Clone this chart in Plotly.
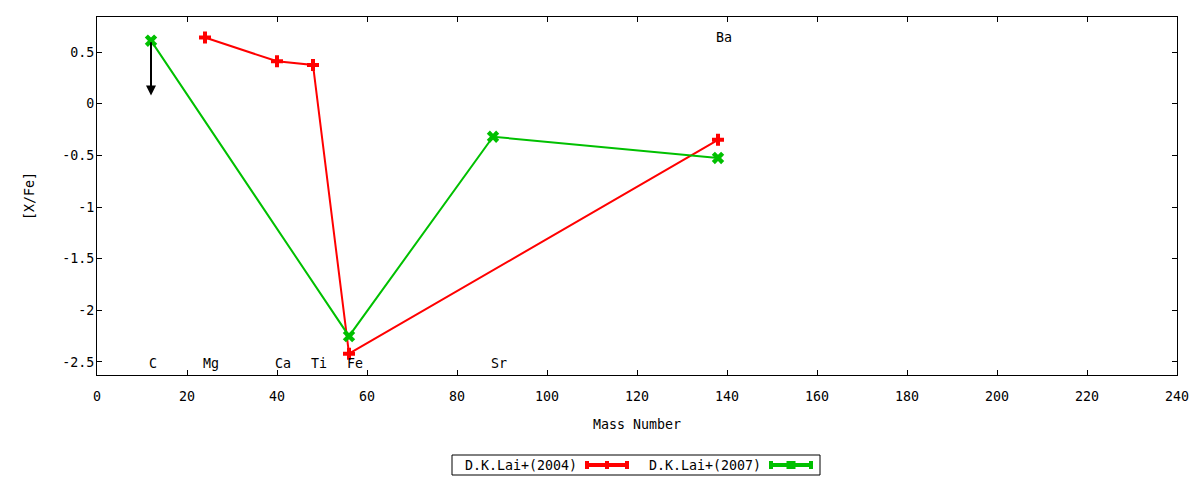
import plotly.graph_objects as go

# D.K.Lai+(2004)
lai04_mass = [24, 40, 48, 56, 138]
lai04_xfe = [0.64, 0.41, 0.375, -2.42, -0.35]

# D.K.Lai+(2007)
lai07_mass = [12, 56, 88, 138]
lai07_xfe = [0.61, -2.25, -0.32, -0.525]

# upper limit on C
limit_mass = [12]
limit_from = [0.61]
limit_to = [0.08]

element_names = ["C", "Mg", "Ca", "Ti", "Fe", "Sr", "Ba"]
element_mass = [12, 24, 40, 48, 56, 88, 138]
element_y = [-2.5, -2.5, -2.5, -2.5, -2.5, -2.5, 0.66]

y_ticks = [0.5, 0, -0.5, -1, -1.5, -2, -2.5]
y_ticktext = ["0.5", "0", "-0.5", "-1", "-1.5", "-2", "-2.5"]

legend_names = ["D.K.Lai+(2004)", "D.K.Lai+(2007)"]

FONT = "DejaVu Sans Mono"
FS = 13.3
RED = "#FF0000"
GREEN = "#00C000"

fig = go.Figure()
fig.add_trace(go.Scatter(
    x=lai04_mass, y=lai04_xfe, mode="lines+markers", name=legend_names[0],
    line=dict(color=RED, width=2),
    marker=dict(symbol="cross", size=10, color=RED),
))
fig.add_trace(go.Scatter(
    x=lai07_mass, y=lai07_xfe, mode="lines+markers", name=legend_names[1],
    line=dict(color=GREEN, width=2),
    marker=dict(symbol="x", size=11, color=GREEN),
))

for m, y0, y1 in zip(limit_mass, limit_from, limit_to):
    fig.add_annotation(x=m, y=y1, ax=m, ay=y0, xref="x", yref="y", axref="x", ayref="y",
                       showarrow=True, arrowhead=2, arrowsize=1, arrowwidth=2,
                       arrowcolor="black", text="")

for name, m, y in zip(element_names, element_mass, element_y):
    fig.add_annotation(x=m, y=y, text=name, showarrow=False, xanchor="left", xshift=-4,
                       yshift=-2, yanchor="middle",
                       font=dict(family=FONT, size=FS, color="black"))


# gnuplot-style key: text first, then the sample with error-bar caps
def px(p):
    return (p - 97) / 1080


def py(p):
    return (375 - p) / 358


def legend_entry(label, x_text, x0, x1, color, mid_w):
    y = py(465)
    fig.add_annotation(x=x_text, y=y, xref="paper", yref="paper", text=label,
                       showarrow=False, xanchor="left", yanchor="middle",
                       font=dict(family=FONT, size=FS, color="black"))
    fig.add_shape(type="line", xref="paper", yref="paper", x0=x0, x1=x1, y0=y, y1=y,
                  line=dict(color=color, width=4))
    for xc in (x0, x1):
        fig.add_shape(type="line", xref="paper", yref="paper", x0=xc, x1=xc,
                      y0=y - 4 / 358, y1=y + 4 / 358, line=dict(color=color, width=4))
    xm = (x0 + x1) / 2
    fig.add_shape(type="rect", xref="paper", yref="paper",
                  x0=xm - mid_w / 2160, x1=xm + mid_w / 2160,
                  y0=y - 4 / 358, y1=y + 4 / 358, fillcolor=color, line=dict(width=0))


legend_entry(legend_names[0], px(463), px(587), px(627), RED, 4)
legend_entry(legend_names[1], px(647), px(771), px(811), GREEN, 9)
fig.add_shape(type="rect", xref="paper", yref="paper", x0=px(452), x1=px(820),
              y0=py(475), y1=py(455), line=dict(color="black", width=1))

fig.update_layout(
    width=1200, height=480,
    paper_bgcolor="white", plot_bgcolor="white",
    font=dict(family=FONT, size=FS, color="black"),
    margin=dict(l=97, r=23, t=17, b=105),
    showlegend=False,
)
fig.update_xaxes(
    range=[0, 240], dtick=20, tick0=0, showgrid=False, zeroline=False,
    showline=True, linecolor="black", linewidth=1, mirror="ticks",
    ticks="inside", ticklen=5, tickcolor="black", tickfont=dict(size=FS),
    ticklabelstandoff=9,
    title=dict(text="Mass Number", standoff=16, font=dict(size=FS)),
)
fig.update_yaxes(
    range=[-2.626, 0.839], tickvals=y_ticks, ticktext=y_ticktext,
    showgrid=False, zeroline=False,
    showline=True, linecolor="black", linewidth=1, mirror="ticks",
    ticks="inside", ticklen=5, tickcolor="black", tickfont=dict(size=FS),
    ticklabelstandoff=-1,
    title=dict(text="[X/Fe]", standoff=24, font=dict(size=FS)),
)

fig.write_html("out.html", config={"displayModeBar": False},
               post_script="document.body.style.margin='0';")
